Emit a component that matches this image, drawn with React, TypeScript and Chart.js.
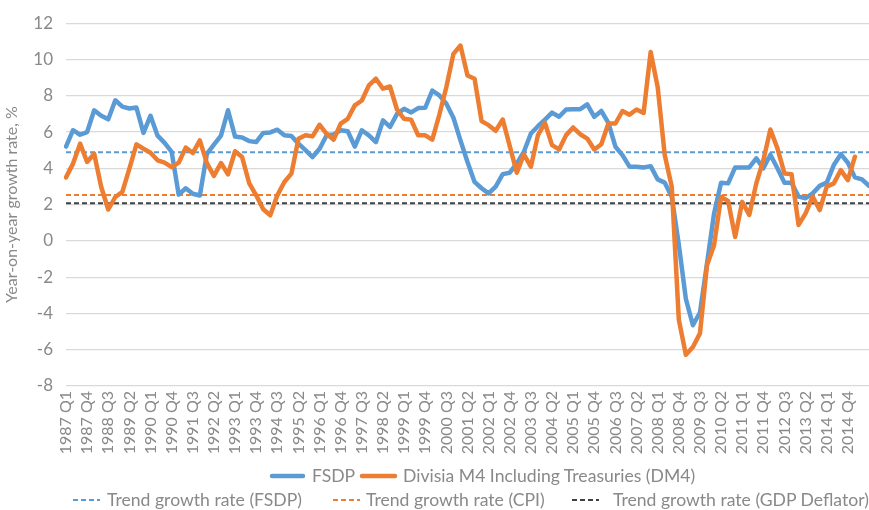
import React, { useEffect, useRef } from "react";
import { Chart, registerables } from "chart.js";

Chart.register(...registerables);

// Quarterly categories 1987 Q1 .. 2015 Q3
const FIRST_YEAR = 1987;
const N_QUARTERS = 115;
const CATEGORIES: string[] = Array.from({ length: N_QUARTERS }, (_, i) =>
  `${FIRST_YEAR + Math.floor(i / 4)} Q${(i % 4) + 1}`
);
const LAST_LABELLED_INDEX = 111; // 2014 Q4
const LABEL_EVERY = 3;

const FSDP: number[] = [
  5.2, 6.1, 5.85, 6.0, 7.2, 6.9, 6.7, 7.75, 7.4, 7.3,
  7.35, 5.95, 6.9, 5.8, 5.4, 4.9, 2.55, 2.9, 2.6, 2.5,
  4.8, 5.3, 5.8, 7.2, 5.75, 5.7, 5.5, 5.45, 5.95, 5.98,
  6.13, 5.82, 5.78, 5.36, 5.0, 4.62, 5.08, 5.82, 5.87, 6.1,
  6.04, 5.2, 6.1, 5.82, 5.45, 6.64, 6.28, 7.0, 7.28, 7.08,
  7.32, 7.34, 8.29, 8.02, 7.56, 6.79, 5.54, 4.35, 3.25, 2.9,
  2.62, 2.99, 3.68, 3.76, 4.27, 4.91, 5.92, 6.32, 6.69, 7.07,
  6.84, 7.24, 7.26, 7.26, 7.53, 6.84, 7.16, 6.5, 5.19, 4.73,
  4.09, 4.09, 4.05, 4.12, 3.39, 3.21, 2.44, -0.2, -3.2, -4.65,
  -3.95, -1.25, 1.5, 3.2, 3.17, 4.05, 4.05, 4.05, 4.55, 4.0,
  4.75, 4.0, 3.21, 3.21, 2.44, 2.35, 2.62, 3.03, 3.21, 4.18,
  4.78, 4.31, 3.5, 3.39, 3.03,
];

const DM4: number[] = [
  3.5, 4.26, 5.36, 4.35, 4.8, 2.97, 1.73, 2.42, 2.7, 3.98,
  5.32, 5.08, 4.86, 4.44, 4.31, 4.07, 4.31, 5.14, 4.84, 5.54,
  4.29, 3.58, 4.29, 3.67, 4.94, 4.62, 3.19, 2.51, 1.74, 1.41,
  2.51, 3.25, 3.71, 5.63, 5.82, 5.76, 6.4, 5.9, 5.58, 6.46,
  6.73, 7.47, 7.74, 8.57, 8.94, 8.39, 8.51, 7.23, 6.73, 6.68,
  5.82, 5.82, 5.58, 6.95, 8.48, 10.31, 10.77, 9.12, 8.94, 6.6,
  6.38, 6.07, 6.69, 5.22, 3.76, 4.77, 4.09, 5.83, 6.5, 5.28,
  5.04, 5.83, 6.25, 5.88, 5.64, 5.04, 5.33, 6.47, 6.47, 7.16,
  6.96, 7.24, 7.05, 10.41, 8.48, 4.73, 2.99, -4.34, -6.28, -5.85,
  -5.1, -1.34, -0.24, 2.42, 2.2, 0.22, 2.15, 1.43, 3.17, 4.45,
  6.14, 5.1, 3.72, 3.68, 0.88, 1.52, 2.44, 1.7, 2.99, 3.17,
  3.9, 3.35, 4.64,
];

const TREND_FSDP = 4.88;
const TREND_CPI = 2.53;
const TREND_GDP_DEFLATOR = 2.08;

const Y_MIN = -8;
const Y_MAX = 12;
const Y_STEP = 2;

const BLUE = "#5B9BD5";
const ORANGE = "#ED7D31";
const DARK = "#404040";
const TEXT = "#898989";
const GRID = "#d9d9d9";
const FONT = "Lato, 'Open Sans', sans-serif";
const FS = 17;
const LEGEND_FS = 17.6;

type LegendProps = {
  x: number;
  y: number;
  w: number;
  tx: number;
  color: string;
  dashed: boolean;
  text: string;
};

function LegendItem({ x, y, w, tx, color, dashed, text }: LegendProps) {
  return (
    <>
      <svg
        style={{ position: "absolute", left: x - 3, top: y - 5 }}
        width={w + 6}
        height={10}
      >
        <line
          x1={3}
          y1={5}
          x2={w + 3}
          y2={5}
          stroke={color}
          strokeWidth={dashed ? 2 : 4.5}
          strokeDasharray={dashed ? "5 3" : undefined}
          strokeLinecap={dashed ? "butt" : "round"}
        />
      </svg>
      <span
        style={{
          position: "absolute",
          left: tx,
          top: y - Math.round(LEGEND_FS * 0.53),
          fontFamily: FONT,
          fontSize: LEGEND_FS,
          lineHeight: `${LEGEND_FS}px`,
          color: TEXT,
          whiteSpace: "nowrap",
        }}
      >
        {text}
      </span>
    </>
  );
}

export default function App() {
  const ref = useRef<HTMLCanvasElement>(null);

  useEffect(() => {
    if (!ref.current) return;
    const common = {
      pointRadius: 0,
      pointHoverRadius: 0,
      fill: false,
      tension: 0,
    };
    const chart = new Chart(ref.current, {
      type: "line",
      data: {
        labels: CATEGORIES,
        datasets: [
          {
            ...common,
            label: "Divisia M4 Including Treasuries (DM4)",
            data: DM4,
            borderColor: ORANGE,
            backgroundColor: ORANGE,
            borderWidth: 4.5,
            borderJoinStyle: "round",
            borderCapStyle: "round",
            order: 0,
          },
          {
            ...common,
            label: "FSDP",
            data: FSDP,
            borderColor: BLUE,
            backgroundColor: BLUE,
            borderWidth: 4.5,
            borderJoinStyle: "round",
            borderCapStyle: "round",
            order: 1,
          },
          {
            ...common,
            label: "Trend growth rate (FSDP)",
            data: CATEGORIES.map(() => TREND_FSDP),
            borderColor: BLUE,
            borderWidth: 2,
            borderDash: [5, 3],
            order: 2,
          },
          {
            ...common,
            label: "Trend growth rate (CPI)",
            data: CATEGORIES.map(() => TREND_CPI),
            borderColor: ORANGE,
            borderWidth: 2,
            borderDash: [5, 3],
            order: 3,
          },
          {
            ...common,
            label: "Trend growth rate (GDP Deflator)",
            data: CATEGORIES.map(() => TREND_GDP_DEFLATOR),
            borderColor: DARK,
            borderWidth: 2,
            borderDash: [5, 3],
            order: 4,
          },
        ],
      },
      options: {
        responsive: false,
        animation: false,
        layout: { padding: { top: 22, left: 0, right: 0, bottom: 0 } },
        plugins: {
          legend: { display: false },
          tooltip: { enabled: false },
        },
        scales: {
          x: {
            type: "category",
            grid: { display: false, drawTicks: false },
            border: { display: false },
            ticks: {
              autoSkip: false,
              minRotation: 90,
              maxRotation: 90,
              padding: 5,
              color: TEXT,
              font: { family: FONT, size: FS - 1 },
              callback: (_v: any, i: number) =>
                i % LABEL_EVERY === 0 && i <= LAST_LABELLED_INDEX
                  ? CATEGORIES[i]
                  : "",
            },
            afterFit: (s: any) => {
              s.height = 124;
              s.paddingLeft = 0;
              s.paddingRight = 0;
            },
          },
          y: {
            min: Y_MIN,
            max: Y_MAX,
            ticks: {
              stepSize: Y_STEP,
              padding: 13,
              color: TEXT,
              font: { family: FONT, size: FS },
            },
            grid: { color: GRID, lineWidth: 1.2, drawTicks: false },
            border: { display: false },
            title: {
              display: true,
              text: "Year-on-year growth rate, %",
              color: TEXT,
              font: { family: FONT, size: FS - 1 },
              padding: { top: 2, bottom: 0 },
            },
            afterFit: (s: any) => {
              s.width = 66;
            },
          },
        },
      },
    });
    return () => chart.destroy();
  }, []);

  return (
    <div
      style={{
        position: "absolute",
        left: 0,
        top: 0,
        width: 869,
        height: 510,
        overflow: "hidden",
        background: "#fff",
      }}
    >
      <canvas ref={ref} width={869} height={510} style={{ display: "block" }} />
      <LegendItem x={272} y={476} w={31} tx={312} color={BLUE} dashed={false} text="FSDP" />
      <LegendItem
        x={362}
        y={476}
        w={33}
        tx={403}
        color={ORANGE}
        dashed={false}
        text="Divisia M4 Including Treasuries (DM4)"
      />
      <LegendItem x={73} y={500} w={27} tx={107} color={BLUE} dashed={true} text="Trend growth rate (FSDP)" />
      <LegendItem x={333} y={500} w={27} tx={366} color={ORANGE} dashed={true} text="Trend growth rate (CPI)" />
      <LegendItem
        x={572}
        y={500}
        w={27}
        tx={613}
        color={DARK}
        dashed={true}
        text="Trend growth rate (GDP Deflator)"
      />
    </div>
  );
}
